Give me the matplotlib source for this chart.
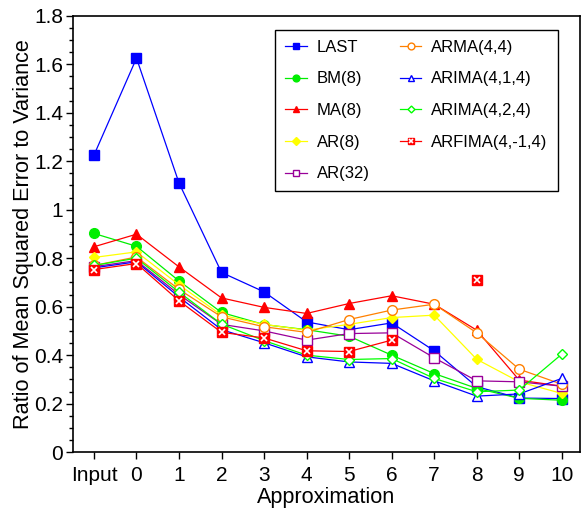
import matplotlib.pyplot as plt
import numpy as np
from matplotlib.ticker import MultipleLocator

plt.rcParams['font.family'] = ['Liberation Sans', 'DejaVu Sans']

x_labels = ["Input", "0", "1", "2", "3", "4", "5", "6", "7", "8", "9", "10"]
x = np.arange(-1, 11)

last = [1.225, 1.625, 1.11, 0.741, 0.661, 0.537, 0.505, 0.533, 0.418, 0.27, 0.223, 0.221]
bm8 = [0.902, 0.849, 0.706, 0.576, 0.526, 0.505, 0.478, 0.40, 0.324, 0.263, 0.222, 0.214]
ma8 = [0.847, 0.899, 0.764, 0.636, 0.597, 0.572, 0.613, 0.645, 0.61, 0.503, 0.297, 0.272]
ar8 = [0.803, 0.826, 0.69, 0.565, 0.527, 0.503, 0.527, 0.555, 0.565, 0.383, 0.29, 0.242]
ar32 = [0.765, 0.79, 0.65, 0.527, 0.50, 0.462, 0.489, 0.492, 0.389, 0.294, 0.29, 0.272]
arma44 = [0.77, 0.805, 0.671, 0.558, 0.517, 0.494, 0.547, 0.586, 0.61, 0.492, 0.342, 0.28]
arima414 = [0.76, 0.785, 0.64, 0.505, 0.451, 0.393, 0.372, 0.366, 0.294, 0.231, 0.24, 0.304]
arima424 = [0.77, 0.80, 0.66, 0.528, 0.46, 0.40, 0.382, 0.386, 0.304, 0.249, 0.256, 0.404]
arfima = [0.753, 0.778, 0.624, 0.494, 0.471, 0.418, 0.415, 0.462, np.nan, 0.709, np.nan, np.nan]

fig = plt.figure(figsize=(5.84, 5.08), dpi=100)
ax = fig.add_axes([0.1245, 0.110, 0.868, 0.859])

lw = 0.9
ms = 7
h_last, = ax.plot(x, last, color='#0000ff', marker='s', ms=ms, lw=lw)
h_bm, = ax.plot(x, bm8, color='#00ee00', marker='o', ms=ms, lw=lw)
h_ma, = ax.plot(x, ma8, color='#ff0000', marker='^', ms=ms, lw=lw)
h_ar8, = ax.plot(x, ar8, color='#ffff00', marker='D', ms=ms - 1.5, lw=lw)
h_ar32, = ax.plot(x, ar32, color='#990099', marker='s', ms=ms, lw=lw, mfc='white')
h_arma, = ax.plot(x, arma44, color='#ff8000', marker='o', ms=ms, lw=lw, mfc='white')
h_a414, = ax.plot(x, arima414, color='#0000ff', marker='^', ms=ms, lw=lw, mfc='white')
h_a424, = ax.plot(x, arima424, color='#00ff00', marker='D', ms=ms - 2, lw=lw, mfc='white')
h_arf, = ax.plot(x, arfima, color='#ff0000', marker='s', ms=ms, lw=lw)
h_arfx, = ax.plot(x, arfima, color='white', marker='x', ms=ms - 2, lw=0, mew=1.2)

ax.set_xlim(-1.5, 10.42)
ax.set_ylim(0, 1.8)
ax.set_xticks(x)
ax.set_xticklabels(x_labels)
ax.set_yticks(np.arange(0, 1.81, 0.2))
ax.set_yticklabels(["0", "0.2", "0.4", "0.6", "0.8", "1", "1.2", "1.4", "1.6", "1.8"])
ax.yaxis.set_minor_locator(MultipleLocator(0.05))
ax.tick_params(axis='both', which='major', labelsize=15, direction='out', length=5, width=1)
ax.tick_params(axis='y', which='major', pad=2)
ax.tick_params(axis='x', which='major', pad=5)
ax.tick_params(axis='y', which='minor', direction='out', length=3, width=1)
for s in ax.spines.values():
    s.set_linewidth(1.2)

ax.set_xlabel('Approximation', fontsize=15.6, labelpad=1.5)
ax.set_ylabel('Ratio of Mean Squared Error to Variance', fontsize=15.6, labelpad=0)

handles = [h_last, h_bm, h_ma, h_ar8, h_ar32, h_arma, h_a414, h_a424, (h_arf, h_arfx)]
labels = ['LAST', 'BM(8)', 'MA(8)', 'AR(8)', 'AR(32)', 'ARMA(4,4)', 'ARIMA(4,1,4)',
          'ARIMA(4,2,4)', 'ARFIMA(4,-1,4)']
leg = ax.legend(handles, labels, ncol=2, loc='upper right', bbox_to_anchor=(0.957, 0.968),
                borderaxespad=0, fontsize=12, markerscale=0.7, handlelength=1.3,
                handletextpad=0.6, labelspacing=1.0, columnspacing=1.8,
                fancybox=False, edgecolor='black', framealpha=1, borderpad=0.6)
leg.get_frame().set_linewidth(1)

fig.savefig('out.png', dpi=100)
